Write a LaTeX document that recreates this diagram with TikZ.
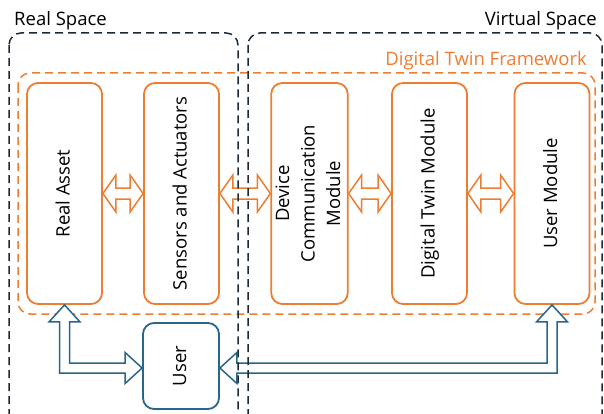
\documentclass[tikz,border=0pt]{standalone}
\usepackage{fontspec}
\setmainfont{Open Sans}
\usetikzlibrary{calc}
\definecolor{dtorange}{RGB}{237,125,49}
\definecolor{dtblue}{RGB}{40,102,138}
\definecolor{spacedark}{RGB}{28,42,56}

% text that reads from bottom to top
\newcommand{\vlabel}[1]{\rotatebox{90}{\begin{tabular}{@{}c@{}}#1\end{tabular}}}

\begin{document}
\begin{tikzpicture}[x=1pt,y=-1pt,
    font=\fontsize{18.5}{25.5}\selectfont,
    space/.style={draw=spacedark,line width=1.5pt,dash pattern=on 8pt off 5pt,rounded corners=12pt},
    framework/.style={draw=dtorange,line width=1.5pt,dash pattern=on 8pt off 5pt,rounded corners=12pt},
    block/.style={draw=dtorange,line width=1.8pt,rounded corners=11pt,fill=white,
      minimum width=75pt,minimum height=221pt,inner sep=0pt},
    userblock/.style={draw=dtblue,line width=1.8pt,rounded corners=11pt,fill=white,
      minimum width=76pt,minimum height=86pt,inner sep=0pt},
    % hollow double arrow between two facing sides
    dtlink/.style={draw=dtorange,line width=1.5pt,fill=white,line join=miter,
      to path={let \p1=(\tikztostart), \p2=(\tikztotarget) in
        (\x1,\y1) -- (\x1+13pt,\y1+18.5pt) -- (\x1+13pt,\y1+5.5pt) -- (\x2-13pt,\y1+5.5pt)
        -- (\x2-13pt,\y1+18.5pt) -- (\x2,\y1) -- (\x2-13pt,\y1-18.5pt) -- (\x2-13pt,\y1-5.5pt)
        -- (\x1+13pt,\y1-5.5pt) -- (\x1+13pt,\y1-18.5pt) -- cycle}},
    % bent arrow: up at the start, right at the end
    userlinkl/.style={draw=dtblue,line width=1.5pt,fill=white,line join=miter,
      to path={let \p1=(\tikztostart), \p2=(\tikztotarget) in
        (\x1,\y1) -- (\x1+15.5pt,\y1-17pt) -- (\x1+5pt,\y1-17pt) -- (\x1+5pt,\y2+5pt)
        -- (\x2-17pt,\y2+5pt) -- (\x2-17pt,\y2+15.5pt) -- (\x2,\y2) -- (\x2-17pt,\y2-15.5pt)
        -- (\x2-17pt,\y2-5pt) -- (\x1-5pt,\y2-5pt) -- (\x1-5pt,\y1-17pt) -- (\x1-15.5pt,\y1-17pt) -- cycle}},
    % bent arrow: left at the start, up at the end
    userlinkr/.style={draw=dtblue,line width=1.5pt,fill=white,line join=miter,
      to path={let \p1=(\tikztostart), \p2=(\tikztotarget) in
        (\x1,\y1) -- (\x1+17pt,\y1+15.5pt) -- (\x1+17pt,\y1+5pt) -- (\x2-5pt,\y1+5pt)
        -- (\x2-5pt,\y2-17pt) -- (\x2-15.5pt,\y2-17pt) -- (\x2,\y2) -- (\x2+15.5pt,\y2-17pt)
        -- (\x2+5pt,\y2-17pt) -- (\x2+5pt,\y1-5pt) -- (\x1+17pt,\y1-5pt) -- (\x1+17pt,\y1-15.5pt) -- cycle}},
    lbl/.style={inner sep=0pt}]
  \useasboundingbox (0,0) rectangle (604,414);

  % framework
  \draw[framework] (18,73) rectangle (595,314);
  \node[lbl,anchor=base east,text=dtorange] (dtflabel) at (587,66) {Digital Twin Framework};

  % modules
  \node[block] (ra) at (64.5,193.5) {\vlabel{Real Asset}};
  \node[block] (sa) at (181.5,193.5) {\vlabel{Sensors and Actuators}};
  \node[block] (dc) at (309.5,193.5) {\vlabel{Device\\Communication\\Module}};
  \node[block] (dt) at (429.5,193.5) {\vlabel{Digital Twin Module}};
  \node[block] (um) at (552,193.5) {\vlabel{User Module}};
  \node[userblock] (us) at (181,366) {\vlabel{User}};

  \draw[dtlink] (ra.east) to (sa.west);
  \draw[dtlink] (sa.east) to (dc.west);
  \draw[dtlink] (dc.east) to (dt.west);
  \draw[dtlink] (dt.east) to (um.west);

  \draw[userlinkl] (ra.south) to ($(us.west)+(0,2)$);
  \draw[userlinkr] ($(us.east)+(0,2)$) to (um.south);

  % real and virtual space
  \draw[space] (9,33) rectangle (238,430);
  \draw[space] (248,33) rectangle (602,430);
  \node[lbl,anchor=base west] (rslabel) at (14,26) {Real Space};
  \node[lbl,anchor=base east] (vslabel) at (597,26) {Virtual Space};
\end{tikzpicture}
\end{document}
